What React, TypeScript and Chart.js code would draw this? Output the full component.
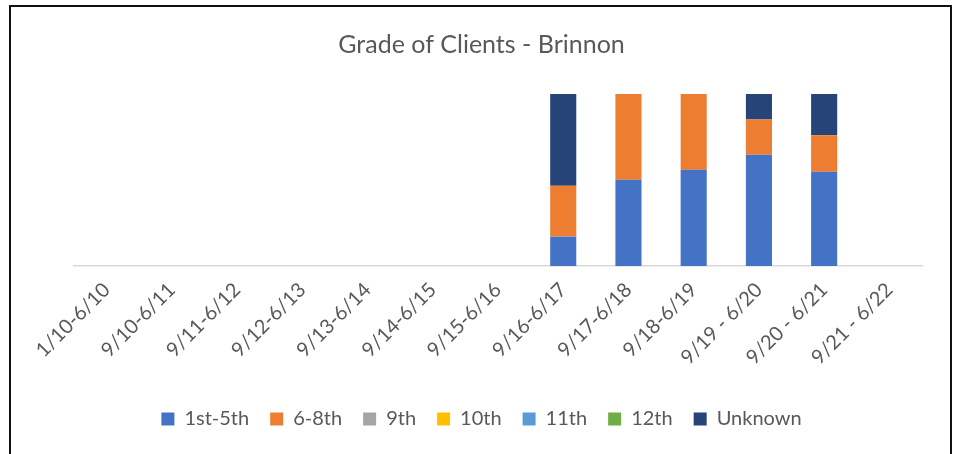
import React, { useEffect, useRef } from "react";
import { Chart, registerables } from "chart.js";

Chart.register(...registerables);

const categories = [
  "1/10-6/10",
  "9/10-6/11",
  "9/11-6/12",
  "9/12-6/13",
  "9/13-6/14",
  "9/14-6/15",
  "9/15-6/16",
  "9/16-6/17",
  "9/17-6/18",
  "9/18-6/19",
  "9/19 - 6/20",
  "9/20 - 6/21",
  "9/21 - 6/22",
];

const grade1to5 = [0, 0, 0, 0, 0, 0, 0, 17.1, 50.1, 56.0, 64.7, 54.8, 0];
const grade6to8 = [0, 0, 0, 0, 0, 0, 0, 29.6, 49.9, 44.0, 20.5, 21.2, 0];
const grade9 = [0, 0, 0, 0, 0, 0, 0, 0, 0, 0, 0, 0, 0];
const grade10 = [0, 0, 0, 0, 0, 0, 0, 0, 0, 0, 0, 0, 0];
const grade11 = [0, 0, 0, 0, 0, 0, 0, 0, 0, 0, 0, 0, 0];
const grade12 = [0, 0, 0, 0, 0, 0, 0, 0, 0, 0, 0, 0, 0];
const gradeUnknown = [0, 0, 0, 0, 0, 0, 0, 53.3, 0, 0, 14.8, 24.0, 0];

const seriesNames = ["1st-5th", "6-8th", "9th", "10th", "11th", "12th", "Unknown"];
const seriesColors = ["#4472C4", "#ED7D31", "#A5A5A5", "#FFC000", "#5B9BD5", "#70AD47", "#264478"];
const seriesValues = [grade1to5, grade6to8, grade9, grade10, grade11, grade12, gradeUnknown];

const FONT = "Lato, 'Liberation Sans', sans-serif";
const TEXT = "#595959";

export default function App() {
  const ref = useRef<HTMLCanvasElement | null>(null);

  useEffect(() => {
    if (!ref.current) return;
    const chart = new Chart(ref.current, {
      type: "bar",
      data: {
        labels: categories,
        datasets: seriesNames.map((name, i) => ({
          label: name,
          data: seriesValues[i],
          backgroundColor: seriesColors[i],
          borderWidth: 0,
          categoryPercentage: 1,
          barPercentage: 0.4,
        })),
      },
      options: {
        animation: false,
        responsive: false,
        maintainAspectRatio: false,
        layout: { padding: { left: 41, right: 35, top: 0, bottom: 15 } },
        plugins: {
          title: {
            display: true,
            text: "Grade of Clients - Brinnon",
            color: TEXT,
            font: { family: FONT, size: 25, weight: "normal" },
            padding: { top: 30, bottom: 34 },
          },
          legend: {
            position: "bottom",
            labels: {
              color: TEXT,
              font: { family: FONT, size: 20 },
              boxWidth: 13,
              boxHeight: 13,
              padding: 21,
            },
          },
          tooltip: { enabled: false },
        },
        scales: {
          x: {
            stacked: true,
            offset: true,
            grid: { display: false },
            border: { color: "#D9D9D9", width: 1.5 },
            ticks: {
              color: TEXT,
              font: { family: FONT, size: 20 },
              minRotation: 45,
              maxRotation: 45,
              autoSkip: false,
              padding: 4,
            },
            afterFit: (scale: any) => {
              scale.height = 122;
            },
          },
          y: {
            stacked: true,
            display: true,
            min: 0,
            max: 100,
            grid: { display: false },
            border: { display: false },
            ticks: { display: false },
            afterFit: (scale: any) => {
              scale.width = 33;
            },
          },
        },
      },
    });
    return () => chart.destroy();
  }, []);

  return (
    <div style={{ position: "fixed", left: 0, top: 0, width: 957, height: 454, background: "#fff", overflow: "hidden" }}>
      <canvas ref={ref} width={957} height={454} style={{ position: "absolute", left: 0, top: 0 }} />
      <div
        style={{
          position: "absolute",
          left: 9,
          top: 5,
          width: 943,
          height: 470,
          boxSizing: "border-box",
          border: "2.5px solid #111",
          pointerEvents: "none",
        }}
      />
    </div>
  );
}
